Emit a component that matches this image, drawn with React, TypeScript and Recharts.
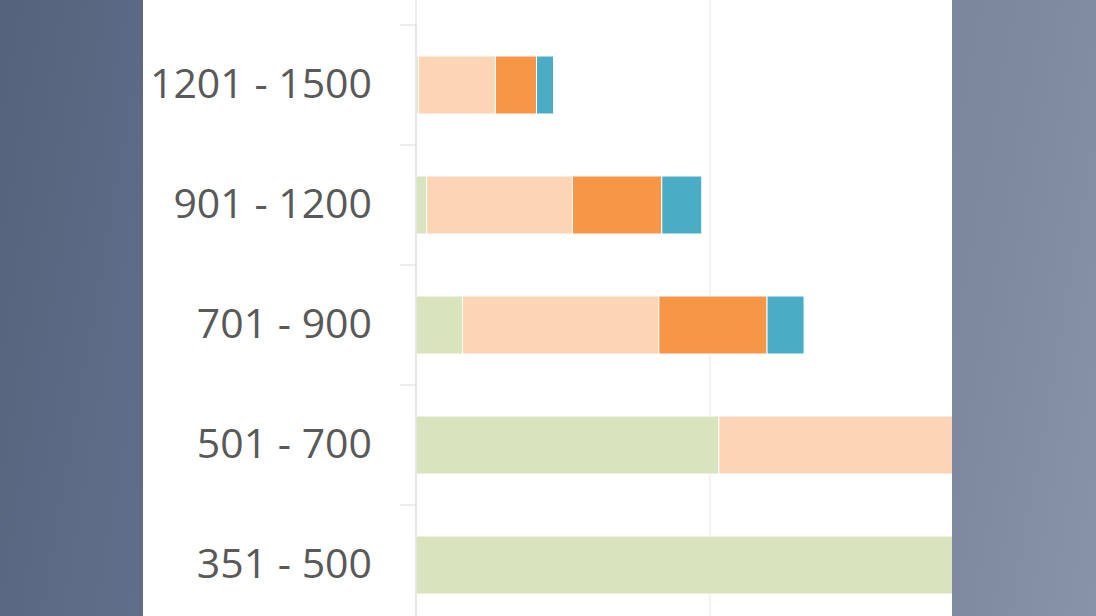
import { Bar, BarChart, CartesianGrid, XAxis, YAxis } from "recharts"

// Rangos (de arriba hacia abajo)
const categories = ["1201 - 1500", "901 - 1200", "701 - 900", "501 - 700", "351 - 500"]

// Valores de cada serie (escala del eje: la línea de cuadrícula visible = 50)
const verde = [0.4, 1.8, 7.9, 51.5, 96]
const durazno = [13.1, 24.8, 33.4, 48, 0]
const naranja = [7.0, 15.2, 18.4, 0, 0]
const azul = [2.9, 6.8, 6.3, 0, 0]

const xTicks = [0, 50, 100]

const data = categories.map((rango, i) => ({
  rango,
  verde: verde[i],
  durazno: durazno[i],
  naranja: naranja[i],
  azul: azul[i],
}))

const PLOT_TOP = 25
const PLOT_H = 600
const BAND = PLOT_H / categories.length

function RangeTick(props: any) {
  const { x, y, payload } = props
  return (
    <g>
      <line x1={x - 16} x2={x} y1={y - BAND / 2} y2={y - BAND / 2} stroke="#d9d9d9" strokeWidth={1} />
      <text
        x={x - 44}
        y={y}
        dy={-3}
        textAnchor="end"
        dominantBaseline="central"
        fill="#595959"
        fontSize={41}
        fontFamily="'Open Sans', sans-serif"
      >
        {payload.value}
      </text>
    </g>
  )
}

// sin texto: solo prolonga eje y cuadrícula hasta el borde superior (el gráfico sigue hacia arriba)
function GridTop(props: any) {
  const { x, payload } = props
  return (
    <line
      x1={x}
      x2={x}
      y1={0}
      y2={PLOT_TOP}
      stroke={payload.value === 0 ? "#d9d9d9" : "#e6e6e6"}
      strokeWidth={1}
    />
  )
}

export default function App() {
  return (
    <div
      style={{
        position: "absolute",
        left: 0,
        top: 0,
        width: 1096,
        height: 616,
        overflow: "hidden",
        background: "linear-gradient(100deg, #54627c 0%, #5d6b86 14%, #7e899f 86%, #8893a8 100%)",
      }}
    >
      <div
        style={{
          position: "absolute",
          left: 143,
          top: 0,
          width: 809,
          height: 616,
          overflow: "hidden",
          background: "#ffffff",
        }}
      >
        <BarChart
          width={861}
          height={PLOT_TOP + PLOT_H + 1}
          data={data}
          layout="vertical"
          margin={{ top: PLOT_TOP, right: 0, left: 0, bottom: 0 }}
          barSize={58}
          style={{ overflow: "visible" }}
        >
          <CartesianGrid horizontal={false} stroke="#e6e6e6" />
          <XAxis
            type="number"
            domain={[0, 100]}
            ticks={xTicks}
            height={1}
            axisLine={false}
            tickLine={false}
            tick={<GridTop />}
          />
          <YAxis
            type="category"
            dataKey="rango"
            width={273}
            axisLine={{ stroke: "#d9d9d9" }}
            tickLine={false}
            tickSize={0}
            tickMargin={0}
            tick={<RangeTick />}
            interval={0}
          />
          <Bar dataKey="verde" stackId="a" fill="#d7e4bd" stroke="#ffffff" strokeWidth={1} isAnimationActive={false} />
          <Bar dataKey="durazno" stackId="a" fill="#fcd5b5" stroke="#ffffff" strokeWidth={1} isAnimationActive={false} />
          <Bar dataKey="naranja" stackId="a" fill="#f79646" stroke="#ffffff" strokeWidth={1} isAnimationActive={false} />
          <Bar dataKey="azul" stackId="a" fill="#4bacc6" stroke="#ffffff" strokeWidth={1} isAnimationActive={false} />
        </BarChart>
      </div>
    </div>
  )
}
